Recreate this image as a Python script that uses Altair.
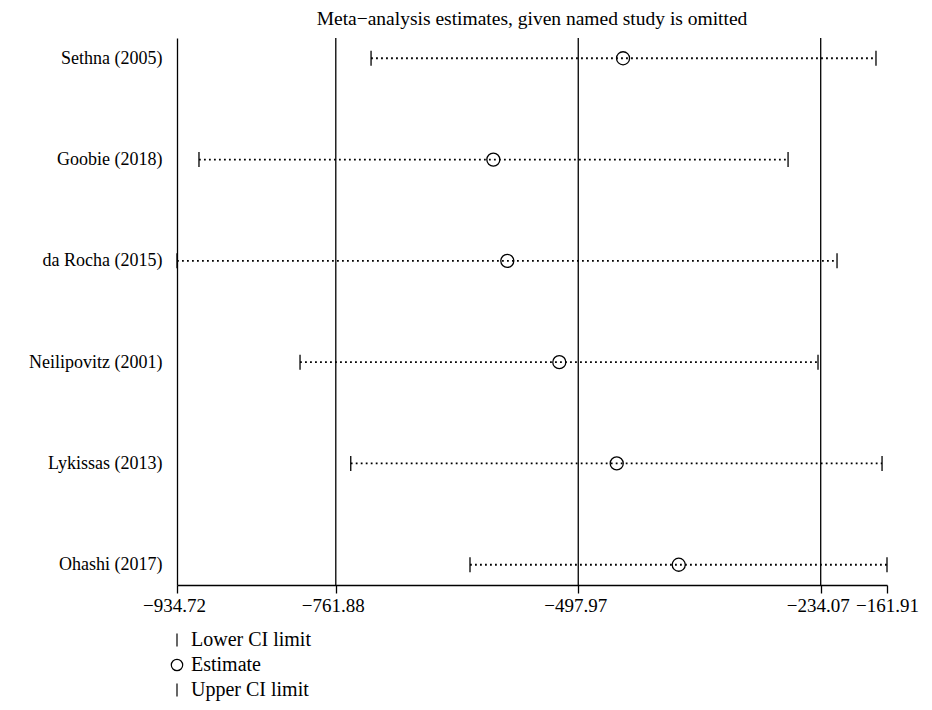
import altair as alt
import pandas as pd

studies = ["Sethna (2005)", "Goobie (2018)", "da Rocha (2015)",
           "Neilipovitz (2001)", "Lykissas (2013)", "Ohashi (2017)"]
lower = [-723.5, -910.8, -934.72, -800.8, -745.6, -615.8]
estimate = [-449.2, -590.4, -575.2, -518.6, -456.1, -388.6]
upper = [-173.9, -269.6, -216.3, -237.0, -167.3, -161.91]
tick_values = [-934.72, -761.88, -497.97, -234.07, -161.91]
ref_lines = [-761.88, -497.97, -234.07]
legend_labels = ["Lower CI limit", "Estimate", "Upper CI limit"]
title_text = "Meta\u2212analysis estimates, given named study is omitted"

FONT = "Liberation Serif"

df = pd.DataFrame({"study": studies, "lower": lower, "estimate": estimate, "upper": upper})
long = df.melt(id_vars="study", value_vars=["lower", "estimate", "upper"],
               var_name="kind", value_name="value")
long["kind"] = long["kind"].map({"lower": legend_labels[0],
                                 "estimate": legend_labels[1],
                                 "upper": legend_labels[2]})
refs = pd.DataFrame({"v": ref_lines})

xscale = alt.Scale(domain=[tick_values[0], tick_values[-1]], nice=False, zero=False)
yscale = alt.Scale(type="point", padding=0.2, domain=studies)

x_axis = alt.Axis(values=tick_values, format=".2f",
                  labelExpr="replace(datum.label, '-', '\u2212')",
                  title=None, grid=False, tickSize=8, tickColor="black", tickWidth=1.3,
                  domainColor="black", domainWidth=1.3, labelFont=FONT, labelFontSize=19,
                  labelColor="black", labelPadding=3, labelOverlap=False, labelFlush=False,
                  labelOffset={"condition": {"test": "datum.value > -200", "value": 0},
                               "value": -3})
y_axis = alt.Axis(title=None, ticks=False, grid=False, labelFont=FONT, labelFontSize=18,
                  labelColor="black", labelPadding=15, domainColor="black", domainWidth=1.3)

rules = alt.Chart(refs).mark_rule(color="black", strokeWidth=1.3).encode(
    x=alt.X("v:Q", scale=xscale, axis=x_axis)
)

ci = alt.Chart(df).mark_rule(color="black", strokeWidth=1.8, strokeDash=[1.8, 3.2]).encode(
    x=alt.X("lower:Q", scale=xscale, axis=x_axis),
    x2="upper:Q",
    y=alt.Y("study:N", scale=yscale, axis=y_axis, sort=studies),
)

vpath = "M0,-1.15L0,1.15"
pts = alt.Chart(long).mark_point(filled=False, color="black", strokeWidth=1.3,
                                  size=170, opacity=1).encode(
    x=alt.X("value:Q", scale=xscale, axis=x_axis),
    y=alt.Y("study:N", scale=yscale, axis=y_axis, sort=studies),
    shape=alt.Shape("kind:N",
                    scale=alt.Scale(domain=legend_labels, range=[vpath, "circle", vpath]),
                    legend=alt.Legend(title=None, orient="none", legendX=-10, legendY=592,
                                      labelFont=FONT, labelFontSize=20, labelColor="black",
                                      symbolSize=130, symbolStrokeWidth=1.2,
                                      symbolStrokeColor="black", symbolFillColor="transparent",
                                      rowPadding=5, labelOffset=4)),
)

chart = alt.layer(rules, ci, pts).properties(
    width=710, height=547,
    autosize=alt.AutoSizeParams(type="none"),
    padding={"left": 169, "top": 30, "right": 35, "bottom": 117},
    title=alt.TitleParams(title_text, font=FONT, fontSize=19.5, fontWeight="normal",
                          color="black", anchor="middle", offset=8),
).configure_view(stroke=None)

chart.save("out.html", embed_options={"renderer": "svg", "actions": False})
